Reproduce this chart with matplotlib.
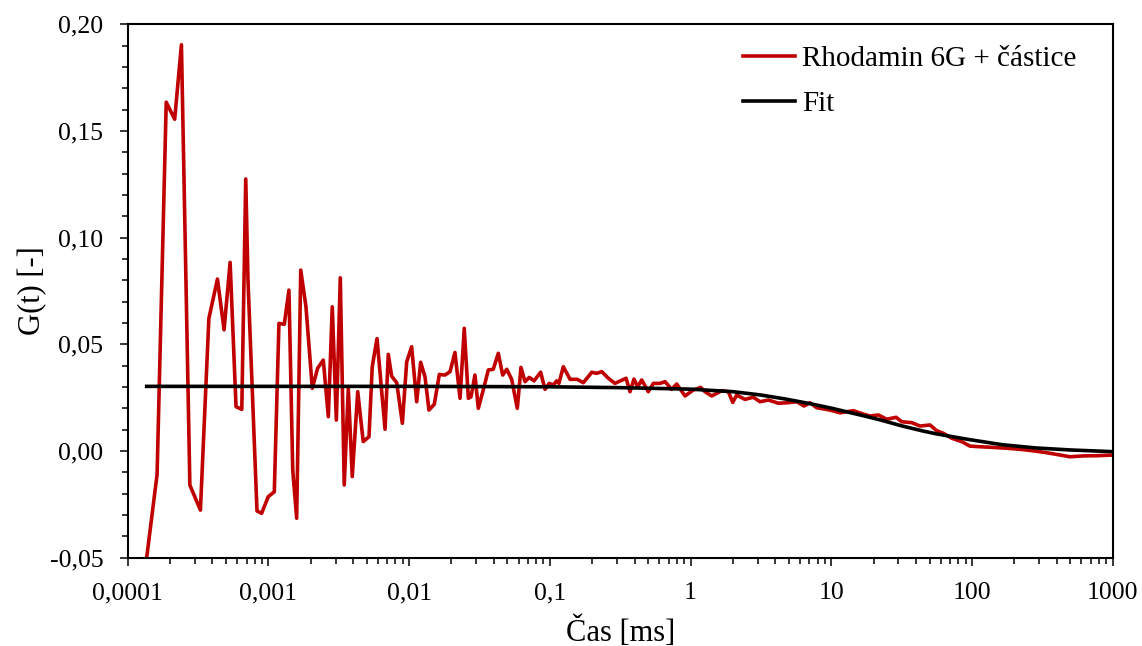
import numpy as np
import matplotlib
matplotlib.use('Agg')
import matplotlib.pyplot as plt
from matplotlib.ticker import FuncFormatter, MultipleLocator, LogLocator, NullFormatter

plt.rcParams['font.family'] = ['Liberation Serif', 'DejaVu Serif']

## Data (log10 of time in ms, G(t))

cas_log = [-3.865, -3.791, -3.726, -3.666, -3.618, -3.558, -3.483, -3.423, -3.362, -3.315,
           -3.272, -3.230, -3.189, -3.161, -3.145, -3.081, -3.048, -3.001, -2.958, -2.925,
           -2.887, -2.854, -2.827, -2.799, -2.770, -2.733, -2.688, -2.650, -2.610, -2.574,
           -2.546, -2.517, -2.489, -2.461, -2.432, -2.404, -2.365, -2.326, -2.285, -2.262,
           -2.228, -2.171, -2.148, -2.124, -2.088, -2.048, -2.017, -1.982, -1.946, -1.918,
           -1.887, -1.859, -1.821, -1.785, -1.745, -1.709, -1.674, -1.638, -1.608, -1.579,
           -1.560, -1.532, -1.508, -1.473, -1.437, -1.402, -1.366, -1.335, -1.306, -1.271,
           -1.231, -1.205, -1.176, -1.146, -1.112, -1.065, -1.034, -1.004, -0.975, -0.951,
           -0.935, -0.904, -0.856, -0.805, -0.762, -0.702, -0.667, -0.631, -0.584, -0.537,
           -0.501, -0.458, -0.430, -0.402, -0.375, -0.347, -0.300, -0.264, -0.217, -0.181,
           -0.134, -0.098, -0.039, 0.020, 0.072, 0.103, 0.151, 0.222, 0.269, 0.300,
           0.328, 0.387, 0.446, 0.494, 0.553, 0.624, 0.684, 0.755, 0.807, 0.849,
           0.897, 0.991, 1.063, 1.157, 1.228, 1.276, 1.335, 1.394, 1.461, 1.501,
           1.572, 1.631, 1.702, 1.750, 1.797, 1.856, 1.927, 1.986, 2.058, 2.152,
           2.247, 2.342, 2.436, 2.532, 2.626, 2.697, 2.792, 2.887, 3.0]

g_data = [-0.050, -0.011, 0.1635, 0.1555, 0.1904, -0.016, -0.0277, 0.0621, 0.0806, 0.0568,
          0.0884, 0.0208, 0.0195, 0.1275, 0.080, -0.0281, -0.0292, -0.0214, -0.0191, 0.0598,
          0.0594, 0.0754, -0.0089, -0.0315, 0.0848, 0.0676, 0.0294, 0.0388, 0.0426, 0.0161,
          0.0676, 0.0145, 0.0812, -0.0159, 0.0294, -0.0120, 0.0278, 0.0044, 0.0067, 0.0395,
          0.0527, 0.0102, 0.0453, 0.0351, 0.0320, 0.0130, 0.0418, 0.0489, 0.0231, 0.0416,
          0.0348, 0.0192, 0.0219, 0.0359, 0.0356, 0.0372, 0.0462, 0.0247, 0.0575, 0.0247,
          0.0254, 0.0356, 0.0200, 0.0286, 0.0380, 0.0383, 0.0458, 0.0356, 0.0383, 0.0336,
          0.0200, 0.0392, 0.0325, 0.0345, 0.0329, 0.0369, 0.0289, 0.0317, 0.0309, 0.0329,
          0.0317, 0.0395, 0.0336, 0.0336, 0.0320, 0.0369, 0.0364, 0.0372, 0.0341, 0.0317,
          0.0328, 0.0341, 0.0278, 0.0337, 0.0301, 0.0333, 0.0278, 0.0317, 0.0317, 0.0325,
          0.0289, 0.0314, 0.0258, 0.0286, 0.0298, 0.0278, 0.0258, 0.0283, 0.0278, 0.0228,
          0.0262, 0.0242, 0.0252, 0.0231, 0.0239, 0.0224, 0.0226, 0.0231, 0.0211, 0.0226,
          0.0203, 0.0192, 0.0179, 0.0189, 0.0173, 0.0164, 0.0169, 0.0149, 0.0158, 0.0137,
          0.0133, 0.0117, 0.0122, 0.0095, 0.0083, 0.0060, 0.0044, 0.0023, 0.0020, 0.0017,
          0.0013, 0.0008, 0.0001, -0.0008, -0.0019, -0.0027, -0.0023, -0.0022, -0.0019]

fit_log = [-3.865, -2.0, -1.0, -0.5, 0.0, 0.302, 0.494, 0.672, 0.849, 1.0, 1.134,
           1.25, 1.347, 1.5, 1.65, 1.75, 1.986, 2.221, 2.461, 2.697, 3.0]
g_fit = [0.0303, 0.0303, 0.0301, 0.0297, 0.0290, 0.0278, 0.0263, 0.0244, 0.0222, 0.0201, 0.0180,
         0.0162, 0.0146, 0.0118, 0.0094, 0.0080, 0.0053, 0.0029, 0.0014, 0.0005, -0.0003]

cas = 10 ** np.array(cas_log)
cas_fit = 10 ** np.array(fit_log)

## Graf

fig = plt.figure(figsize=(11.42, 6.46), dpi=100)
ax = fig.add_axes([0.1118, 0.1367, 0.8625, 0.8257])

ax.plot(cas, g_data, color='#C00000', lw=2.6, label='Rhodamin 6G + částice')
ax.plot(cas_fit, g_fit, color='black', lw=2.6, label='Fit')

ax.set_xscale('log')
ax.set_xlim(1e-4, 1e3)
ax.set_ylim(-0.05, 0.20)

ax.yaxis.set_major_locator(MultipleLocator(0.05))
ax.yaxis.set_minor_locator(MultipleLocator(0.01))
ax.yaxis.set_major_formatter(FuncFormatter(lambda v, p: f"{v:.2f}".replace('.', ',')))

ax.xaxis.set_major_locator(LogLocator(base=10, numticks=20))
ax.xaxis.set_minor_locator(LogLocator(base=10, subs=np.arange(2, 10), numticks=100))
ax.xaxis.set_minor_formatter(NullFormatter())
ax.xaxis.set_major_formatter(FuncFormatter(lambda v, p: f"{v:g}".replace('.', ',')))

ax.tick_params(which='major', direction='out', length=5.5, width=1.1, labelsize=18.5, pad=12)
ax.tick_params(which='minor', direction='out', length=4, width=1.1)
ax.tick_params(top=False, right=False, which='both')

for s in ax.spines.values():
    s.set_linewidth(1.5)

ax.set_xlabel('Čas [ms]', fontsize=22)
ax.set_ylabel('G(t) [-]', fontsize=22)
ax.xaxis.set_label_coords(0.5, -0.139)
ax.xaxis.label.set_va('center')
ax.yaxis.set_label_coords(-0.097, 0.5)
ax.yaxis.label.set_va('center')

ax.legend(loc='upper left', bbox_to_anchor=(742.7 / 1142, 1 - 46 / 646),
          bbox_transform=fig.transFigure, frameon=False, fontsize=21,
          handlelength=1.8, handletextpad=0.23, labelspacing=0.62,
          borderpad=0, borderaxespad=0)

plt.savefig('out.png', dpi=100)
